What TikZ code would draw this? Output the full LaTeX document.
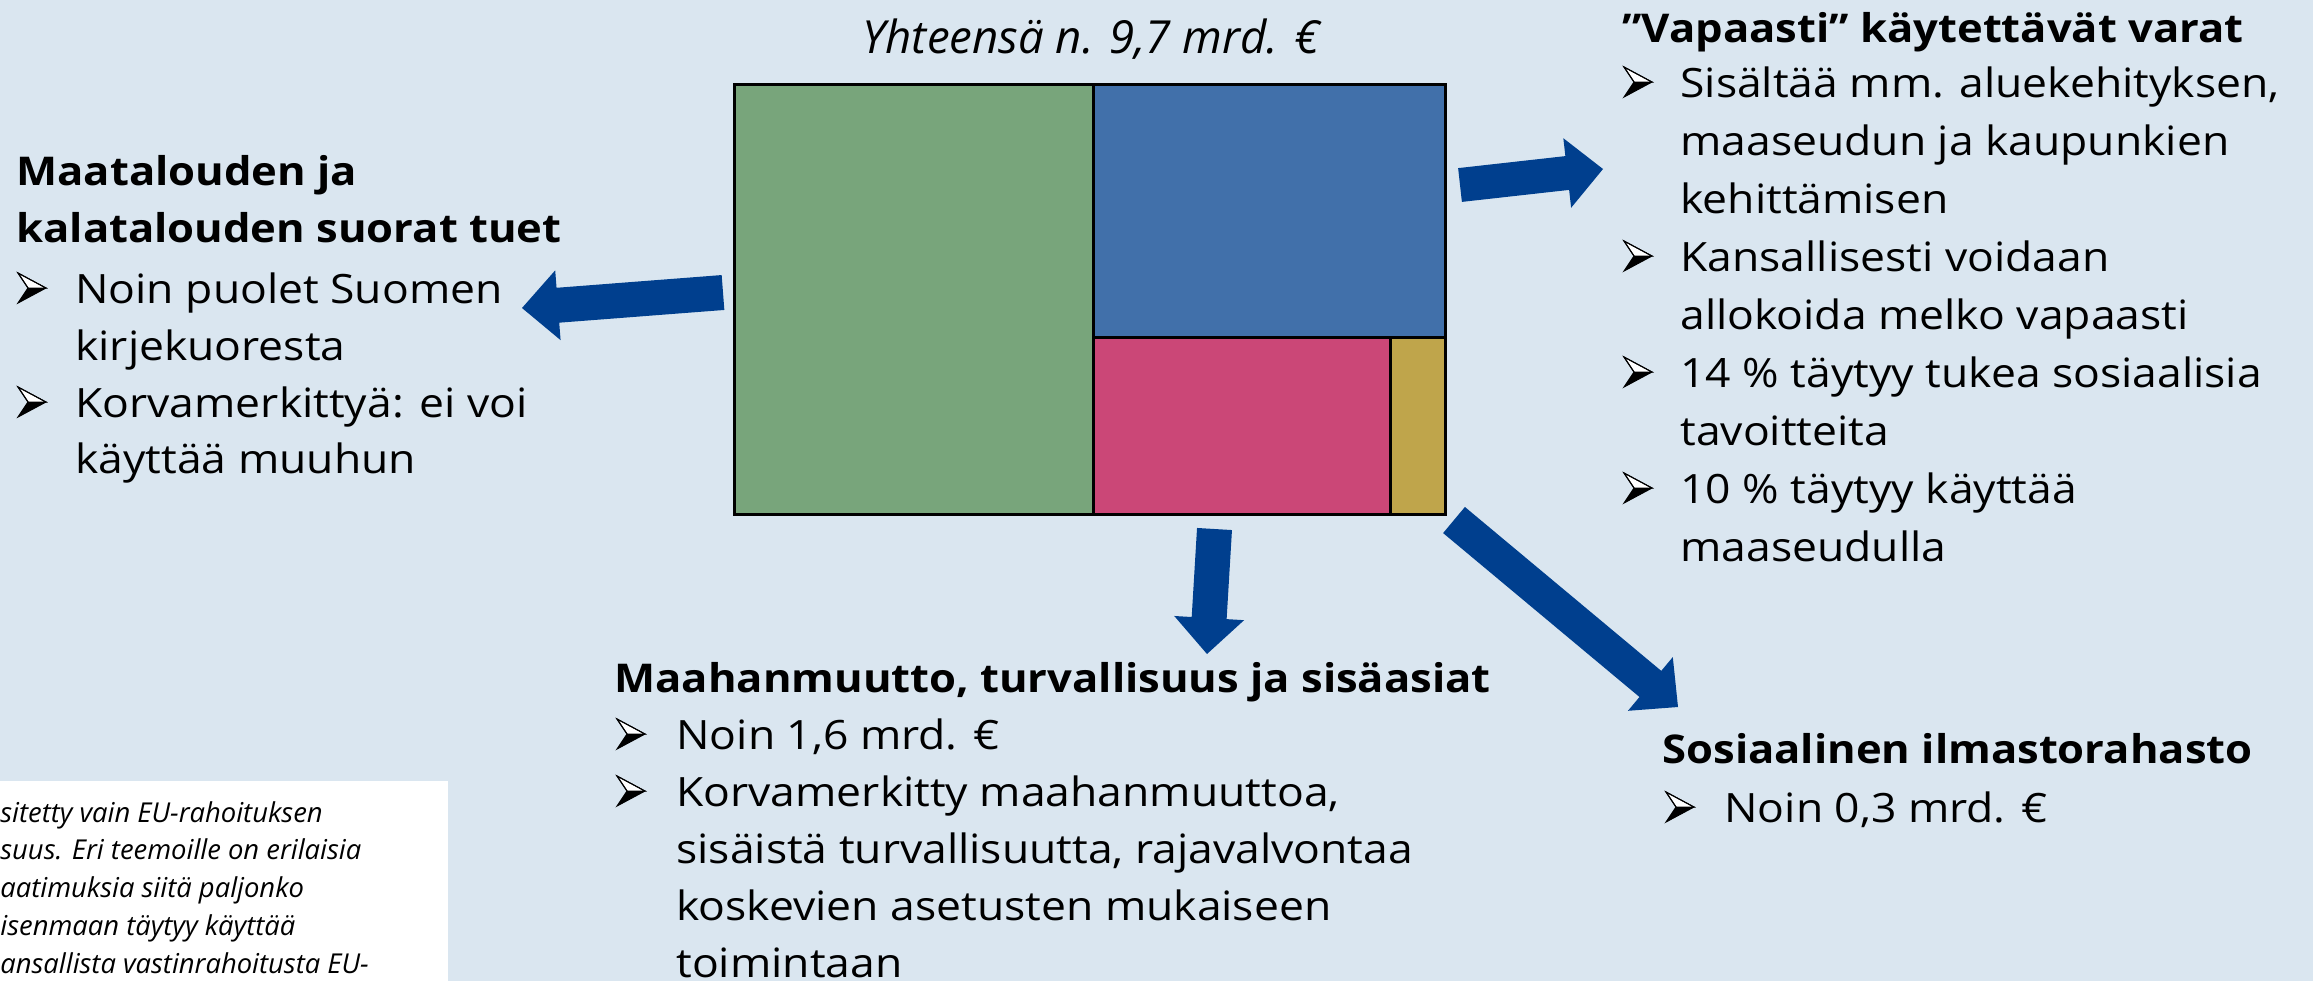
\documentclass[tikz,border=0pt]{standalone}
\usepackage{fontspec}
\setmainfont{Open Sans}[FakeStretch=1.1]
\newfontfamily\plainfam{Open Sans}
\usetikzlibrary{calc}
\definecolor{bgc}{HTML}{DAE6F0}
\definecolor{arrowblue}{HTML}{003F8E}
\definecolor{cgreen}{HTML}{78A57B}
\definecolor{cblue}{HTML}{4170AA}
\definecolor{cpink}{HTML}{CB4777}
\definecolor{cgold}{HTML}{BFA54B}
\newcommand\bodyfont{\fontsize{20.2}{24}\selectfont}
\newcommand\headfont{\fontsize{19.8}{24}\selectfont\bfseries}
\newcommand\titlefont{\plainfam\fontsize{22.8}{27}\selectfont\itshape}
\newcommand\notefont{\plainfam\fontsize{13.7}{16}\selectfont\itshape}
% #1 tail, #2 tip, #3 half shaft, #4 half head, #5 head length
\newcommand\blockarrow[5]{%
  \coordinate (hb) at ($(#2)!#5!(#1)$);
  \fill[arrowblue] ($(#1)!#3!90:(#2)$) -- ($(hb)!#3!-90:(#1)$) -- ($(hb)!#4!-90:(#1)$)
    -- (#2) -- ($(hb)!#4!90:(#1)$) -- ($(hb)!#3!90:(#1)$) -- ($(#1)!#3!-90:(#2)$) -- cycle;
}
\tikzset{
  txt/.style={anchor=base west, inner sep=0pt, font=\bodyfont},
  hd/.style={anchor=base west, inner sep=0pt, font=\headfont},
  note/.style={anchor=base west, inner sep=0pt, font=\notefont},
  cell/.style={draw=black, line width=1.5pt},
  bulletmark/.pic={
    \filldraw[fill=white, draw=black, line width=0.5pt] (0,-30) -- (28,-15) -- (10,-15) -- cycle;
    \fill[black] (10,-15) -- (28,-15) -- (0,0) -- cycle;
    \draw[black, line width=0.5pt, line join=miter] (0,-30) -- (28,-15) -- (0,0) -- (10,-15) -- cycle;
  }
}
\begin{document}
\begin{tikzpicture}[x=0.5pt,y=-0.5pt]
\fill[bgc] (0,0) rectangle (2313,981);
\useasboundingbox (0,0) rectangle (2313,981);

% title
\node[anchor=base, inner sep=0pt, font=\titlefont] (title) at (1091,53) {Yhteensä n. 9,7 mrd. €};

% treemap
\filldraw[cell, fill=cgreen] (734,84) rectangle (1093,514);
\filldraw[cell, fill=cblue] (1093,84) rectangle (1445,337);
\filldraw[cell, fill=cpink] (1093,337) rectangle (1390,514);
\filldraw[cell, fill=cgold] (1390,337) rectangle (1445,514);

% arrows
\coordinate (t1) at (723,292.5);  \coordinate (h1) at (522,308);
\coordinate (t2) at (1460,185);   \coordinate (h2) at (1603,169);
\coordinate (t3) at (1214.5,529); \coordinate (h3) at (1207,654);
\coordinate (t4) at (1454,520);   \coordinate (h4) at (1678,707);
\blockarrow{t1}{h1}{8.75pt}{17.5pt}{18pt}
\blockarrow{t2}{h2}{8.5pt}{17.5pt}{18pt}
\blockarrow{t3}{h3}{8.75pt}{17.5pt}{18pt}
\blockarrow{t4}{h4}{8.5pt}{17.5pt}{18pt}

% left block
\node[hd] (l1) at (16,185) {Maatalouden ja};
\node[hd] (l2) at (16,242) {kalatalouden suorat tuet};
\pic at (18,303) {bulletmark};
\node[txt] (l3) at (75,303) {Noin puolet Suomen};
\node[txt] (l4) at (75,360) {kirjekuoresta};
\pic at (18,417) {bulletmark};
\node[txt] (l5) at (75,417) {Korvamerkittyä: ei voi};
\node[txt] (l6) at (75,473) {käyttää muuhun};

% right block
\node[hd] (r0) at (1622,42) {”Vapaasti” käytettävät varat};
\pic at (1624,97) {bulletmark};
\node[txt] (r1) at (1680,97) {Sisältää mm. aluekehityksen,};
\node[txt] (r2) at (1680,155) {maaseudun ja kaupunkien};
\node[txt] (r3) at (1680,213) {kehittämisen};
\pic at (1624,271) {bulletmark};
\node[txt] (r4) at (1680,271) {Kansallisesti voidaan};
\node[txt] (r5) at (1680,329) {allokoida melko vapaasti};
\pic at (1624,387) {bulletmark};
\node[txt] (r6) at (1680,387) {14 \% täytyy tukea sosiaalisia};
\node[txt] (r7) at (1680,445) {tavoitteita};
\pic at (1624,503) {bulletmark};
\node[txt] (r8) at (1680,503) {10 \% täytyy käyttää};
\node[txt] (r9) at (1680,561) {maaseudulla};

% bottom middle block
\node[hd] (m0) at (614,692) {Maahanmuutto, turvallisuus ja sisäasiat};
\pic at (617,749) {bulletmark};
\node[txt] (m1) at (676,749) {Noin 1,6 mrd. €};
\pic at (617,806) {bulletmark};
\node[txt] (m2) at (676,806) {Korvamerkitty maahanmuuttoa,};
\node[txt] (m3) at (676,863) {sisäistä turvallisuutta, rajavalvontaa};
\node[txt] (m4) at (676,920) {koskevien asetusten mukaiseen};
\node[txt] (m5) at (676,977) {toimintaan};

% bottom right block
\node[hd] (s0) at (1662,763) {Sosiaalinen ilmastorahasto};
\pic at (1666,822) {bulletmark};
\node[txt] (s1) at (1724,822) {Noin 0,3 mrd. €};

% note box
\fill[white] (-2,781) rectangle (448,985);
\node[note] (n1) at (0,822) {sitetty vain EU-rahoituksen};
\node[note] (n2) at (0,859) {suus. Eri teemoille on erilaisia};
\node[note] (n3) at (0,897) {aatimuksia siitä paljonko};
\node[note] (n4) at (0,935) {isenmaan täytyy käyttää};
\node[note] (n5) at (0,973) {ansallista vastinrahoitusta EU-};
\end{tikzpicture}
\end{document}
